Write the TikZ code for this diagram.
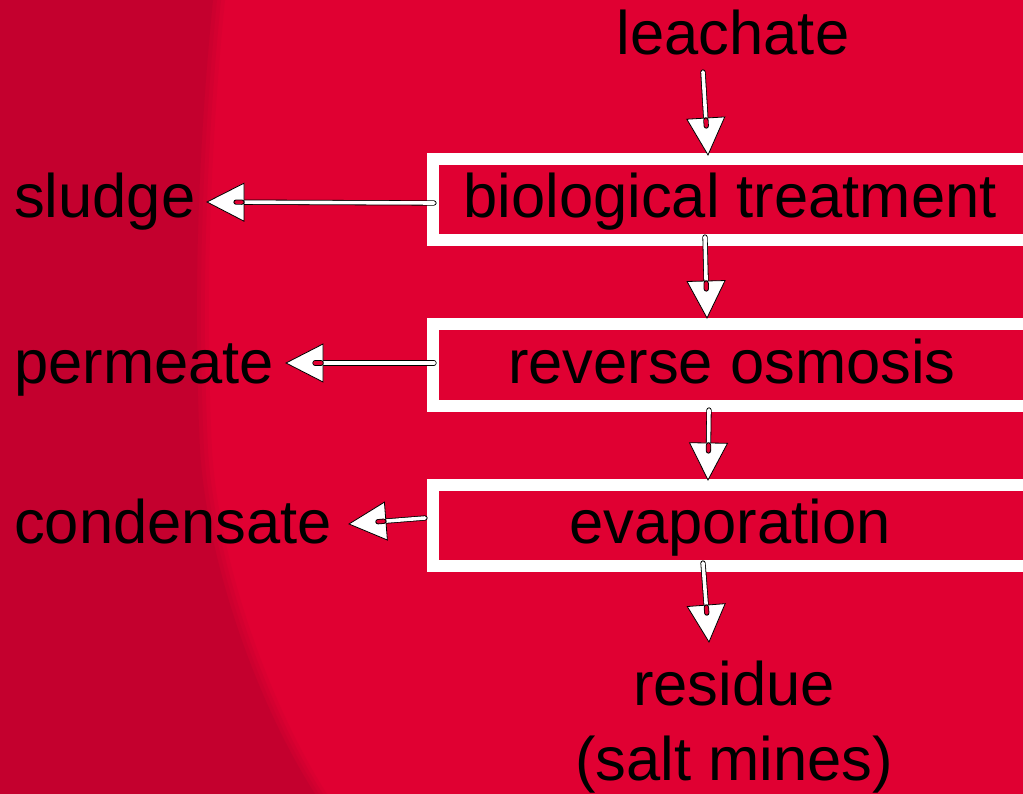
\documentclass[tikz,border=0pt]{standalone}
\usepackage{fontspec}
\setmainfont{Liberation Sans}
\usetikzlibrary{calc}
\definecolor{bgred}{RGB}{224,0,50}
\definecolor{bgdark}{RGB}{196,0,46}
\tikzset{
  lbl/.style={anchor=base, inner sep=0pt, font=\fontsize{61.5}{70}\selectfont, text=black},
  framebox/.style={draw=white, line width=12pt, fill=bgred, minimum width=612pt, minimum height=81pt, inner sep=0pt},
  shaft/.style={draw=black, line width=0.8pt, double=white, double distance=3.6pt, line cap=round},
  capred/.style={draw=black, line width=0.8pt, double=bgred, double distance=3.6pt, line cap=round},
  headtri/.style={draw=black, fill=white, line width=0.8pt, line join=miter},
}
\newcommand\flowarrow[2]{%
  \coordinate (#2-b) at ($(#2)!37pt!(#1)$);
  \coordinate (#2-l) at ($(#2-b)!19pt!90:(#2)$);
  \coordinate (#2-r) at ($(#2-b)!19pt!-90:(#2)$);
  \coordinate (#2-s) at ($(#2)!29pt!(#1)$);
  \coordinate (#2-c) at ($(#2)!35pt!(#1)$);
  \draw[shaft] (#1) -- (#2-s);
  \draw[headtri] (#2) -- (#2-l) -- (#2-r) -- cycle;
  \draw[capred] (#2-s) -- (#2-c);
}
\begin{document}
\begin{tikzpicture}[x=1pt,y=-1pt]
\useasboundingbox (0,0) rectangle (1023,794);
\clip (0,0) rectangle (1023,794);
% background
\fill[bgred] (0,0) rectangle (1023,794);
\foreach \dx/\op in {12/0.2, 8/0.3, 4/0.4, 0/1} {
  \fill[bgdark, opacity=\op, xshift=\dx pt]
    (-20,0) -- (213,0) .. controls (198,150) and (193,300) .. (200,450)
    .. controls (207,560) and (255,700) .. (315,794) -- (-20,794) -- cycle;
}
% process frames
\node[framebox] (box1) at (739,199.5) {};
\node[framebox, minimum height=82pt] (box2) at (739,365) {};
\node[framebox] (box3) at (739,525.5) {};
% labels
\node[lbl] (leach) at (733,55) {leachate};
\node[lbl] (bio) at (730,218) {biological treatment};
\node[lbl] (ro) at (732,384) {reverse osmosis};
\node[lbl] (evap) at (730,543) {evaporation};
\node[lbl] (res) at (734,705) {residue};
\node[lbl] (salt) at (734,780) {(salt mines)};
\node[lbl, anchor=base west] (sludge) at (14,218) {sludge};
\node[lbl, anchor=base west] (perm) at (14,384) {permeate};
\node[lbl, anchor=base west] (cond) at (14,543) {condensate};
% arrow end points
\coordinate (a1s) at (703,72);  \coordinate (a1t) at (708,155);
\coordinate (a2s) at (705,237); \coordinate (a2t) at (707,318);
\coordinate (a3s) at (709,410); \coordinate (a3t) at (708,480);
\coordinate (a4s) at (703,563); \coordinate (a4t) at (709,642);
\coordinate (h1s) at (434,203); \coordinate (h1t) at (207,202);
\coordinate (h2s) at (434,363); \coordinate (h2t) at (286,363);
\coordinate (h3s) at (425,518); \coordinate (h3t) at (349,524);
\flowarrow{a1s}{a1t}
\flowarrow{a2s}{a2t}
\flowarrow{a3s}{a3t}
\flowarrow{a4s}{a4t}
\flowarrow{h1s}{h1t}
\flowarrow{h2s}{h2t}
\flowarrow{h3s}{h3t}
\end{tikzpicture}
\end{document}
